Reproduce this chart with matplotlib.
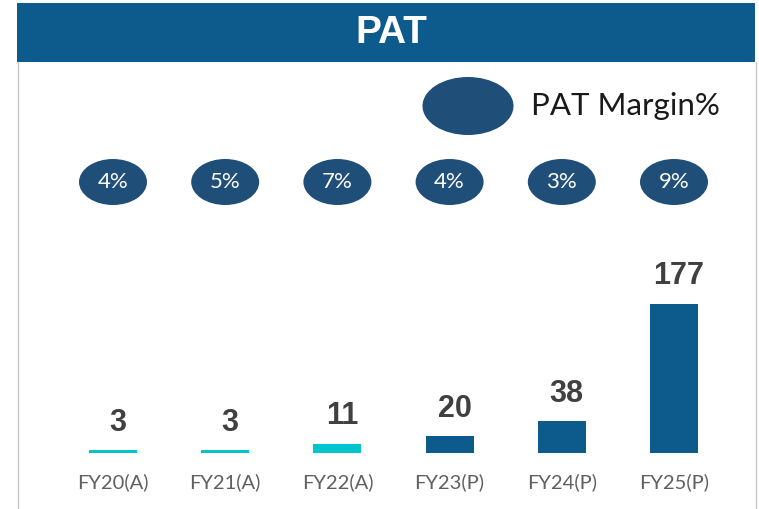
import matplotlib.pyplot as plt
from matplotlib.patches import Ellipse, Rectangle
from matplotlib.lines import Line2D
from matplotlib.transforms import blended_transform_factory, offset_copy

categories = ["FY20(A)", "FY21(A)", "FY22(A)", "FY23(P)", "FY24(P)", "FY25(P)"]
pat_values = [3, 3, 11, 20, 38, 177]
margin_labels = ["4%", "5%", "7%", "4%", "3%", "9%"]
actual_color = "#00c5cf"
projected_color = "#0d5a8c"
bar_colors = [actual_color] * 3 + [projected_color] * 3

W, H = 759, 509
fig = plt.figure(figsize=(W / 100, H / 100), dpi=100)
fig.patch.set_facecolor("white")

# bar axes fills figure; limits chosen so bars sit in the lower area
ax = fig.add_axes([0, 0, 1, 1])
x0, step, base, scale = 113, 112.2, 453, 0.842
ax.set_xlim((0 - x0) / step, (W - x0) / step)
ax.set_ylim(-(H - base) / scale, base / scale)
ax.axis("off")

xs = list(range(len(categories)))
ax.bar(xs, pat_values, width=48 / step, color=bar_colors)

for x, v, cat in zip(xs, pat_values, categories):
    t = offset_copy(ax.transData, fig=fig, x=3.5, y=9, units="points")
    ax.text(x, v, str(v), transform=t, ha="center", va="bottom",
            fontsize=22, fontweight="bold", color="#404040", family="Liberation Sans")
    t2 = offset_copy(ax.transData, fig=fig, y=-21, units="points")
    ax.text(x, 0, cat, transform=t2, ha="center", va="center",
            fontsize=14.5, color="#606060", family="Lato")

# margin bubbles
bt = blended_transform_factory(ax.transData, ax.transAxes)
ell_y = 1 - 182 / H
for x, m in zip(xs, margin_labels):
    ax.add_patch(Ellipse((x, ell_y), 68 / step, 46 / H, transform=bt,
                         facecolor="#1f4e79", edgecolor="none", clip_on=False))
    ax.text(x, ell_y, m, transform=bt, ha="center", va="center",
            fontsize=16, color="white", family="Lato")

# legend
fig.patches.append(Ellipse((468 / W, 1 - 106 / H), 91 / W, 58 / H,
                           transform=fig.transFigure, facecolor="#1f4e79", edgecolor="none"))
fig.text(531 / W, 1 - 106 / H, "PAT Margin%", ha="left", va="center",
         fontsize=22.5, color="#1a1a1a", family="Lato")

# header band and frame
fig.patches.append(Rectangle((17 / W, 1 - 62 / H), (755 - 17) / W, 59 / H,
                             transform=fig.transFigure, facecolor=projected_color,
                             edgecolor="none"))
fig.text(391 / W, 1 - 33 / H, "PAT", ha="center", va="center", fontsize=28,
         fontweight="bold", color="white", family="Liberation Sans")
for xl in (17.5, 755.5):
    fig.lines.append(Line2D([xl / W, xl / W], [0, 1 - 62 / H], transform=fig.transFigure,
                            color="#c8c8c8", linewidth=1))

fig.savefig("out.png", dpi=100)
